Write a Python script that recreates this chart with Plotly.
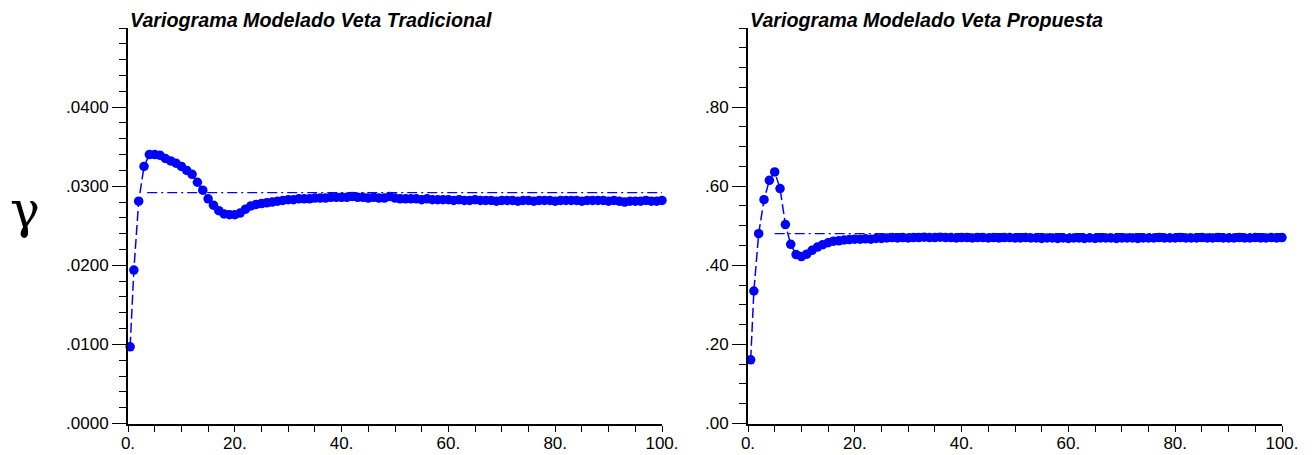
import plotly.graph_objects as go

# ---------------- data ----------------
lag_trad = [0.4, 1.1, 2, 3, 4, 5, 6, 7, 8, 9, 10, 11, 12, 13, 14, 15, 16, 17, 18, 19, 20,
            21, 22, 23, 24, 25, 26, 27, 28, 29, 30, 31, 32, 33, 34, 35, 36, 37, 38, 39, 40,
            41, 42, 43, 44, 45, 46, 47, 48, 49, 50, 51, 52, 53, 54, 55, 56, 57, 58, 59, 60,
            61, 62, 63, 64, 65, 66, 67, 68, 69, 70, 71, 72, 73, 74, 75, 76, 77, 78, 79, 80,
            81, 82, 83, 84, 85, 86, 87, 88, 89, 90, 91, 92, 93, 94, 95, 96, 97, 98, 99, 100]
gamma_trad = [0.0097, 0.0194, 0.0281, 0.0325, 0.0340, 0.0340, 0.0339, 0.0335, 0.0332, 0.0329,
              0.0325, 0.0320, 0.0315, 0.0305, 0.0295, 0.0284, 0.0276, 0.0269, 0.0265, 0.0264,
              0.0264, 0.0266, 0.0271, 0.0275, 0.0277, 0.0278, 0.0279, 0.0280, 0.0281, 0.0282,
              0.0283, 0.0283, 0.0284, 0.0284, 0.0284, 0.0285, 0.0285, 0.0285, 0.0286, 0.0286,
              0.0286, 0.0286, 0.0287, 0.0286, 0.0286, 0.0285, 0.0286, 0.0285, 0.0285, 0.0287,
              0.0285, 0.0284, 0.0284, 0.0284, 0.0284, 0.0283, 0.0284, 0.0283, 0.0283, 0.0283,
              0.0283, 0.0282, 0.0283, 0.0282, 0.0282, 0.0283, 0.0282, 0.0282, 0.0282, 0.0281,
              0.0282, 0.0282, 0.0282, 0.0281, 0.0282, 0.0282, 0.0281, 0.0282, 0.0282, 0.0282,
              0.0281, 0.0282, 0.0282, 0.0282, 0.0282, 0.0281, 0.0282, 0.0282, 0.0282, 0.0282,
              0.0281, 0.0282, 0.0281, 0.0280, 0.0281, 0.0281, 0.0281, 0.0282, 0.0281, 0.0281,
              0.0282]
sill_trad_x = [3.6, 100]
sill_trad_y = [0.0292, 0.0292]

lag_prop = [0.5, 1.1, 2, 3, 4, 5, 6, 7, 8, 9, 10, 11, 12, 13, 14, 15, 16, 17, 18, 19, 20,
            21, 22, 23, 24, 25, 26, 27, 28, 29, 30, 31, 32, 33, 34, 35, 36, 37, 38, 39, 40,
            41, 42, 43, 44, 45, 46, 47, 48, 49, 50, 51, 52, 53, 54, 55, 56, 57, 58, 59, 60,
            61, 62, 63, 64, 65, 66, 67, 68, 69, 70, 71, 72, 73, 74, 75, 76, 77, 78, 79, 80,
            81, 82, 83, 84, 85, 86, 87, 88, 89, 90, 91, 92, 93, 94, 95, 96, 97, 98, 99, 100]
gamma_prop = [0.161, 0.335, 0.480, 0.566, 0.615, 0.636, 0.594, 0.503, 0.453, 0.427,
              0.422, 0.428, 0.438, 0.446, 0.452, 0.457, 0.461, 0.462, 0.464, 0.465,
              0.466, 0.466, 0.467, 0.466, 0.468, 0.468, 0.469, 0.470, 0.469, 0.470,
              0.469, 0.470, 0.470, 0.471, 0.470, 0.470, 0.471, 0.470, 0.470, 0.469,
              0.470, 0.470, 0.469, 0.470, 0.470, 0.469, 0.470, 0.469, 0.470, 0.470,
              0.469, 0.469, 0.470, 0.469, 0.469, 0.468, 0.469, 0.469, 0.468, 0.469,
              0.468, 0.469, 0.469, 0.468, 0.469, 0.468, 0.469, 0.469, 0.469, 0.468,
              0.469, 0.469, 0.469, 0.468, 0.469, 0.469, 0.469, 0.470, 0.469, 0.469,
              0.469, 0.470, 0.469, 0.469, 0.469, 0.470, 0.469, 0.469, 0.470, 0.469,
              0.469, 0.469, 0.470, 0.469, 0.469, 0.470, 0.469, 0.469, 0.470, 0.469,
              0.470]
sill_prop_x = [5.0, 100]
sill_prop_y = [0.480, 0.480]

x_tickvals = [0, 20, 40, 60, 80, 100]
x_ticktext = ["0.", "20.", "40.", "60.", "80.", "100."]
y_trad_tickvals = [0.0, 0.01, 0.02, 0.03, 0.04]
y_trad_ticktext = [".0000", ".0100", ".0200", ".0300", ".0400"]
y_prop_tickvals = [0.0, 0.2, 0.4, 0.6, 0.8]
y_prop_ticktext = [".00", ".20", ".40", ".60", ".80"]

title_trad = "Variograma Modelado Veta Tradicional"
title_prop = "Variograma Modelado Veta Propuesta"
ylabel = "γ"

# ---------------- figure ----------------
# page body has an 8px margin, so the figure is offset by 8px in the screenshot
OFF = 8
W, H = 1312 - OFF, 455 - OFF
BLUE = "#0000FF"
FONT = "Liberation Sans, Arial, sans-serif"

def px(x):
    return (x - OFF) / W

def py(y):
    return 1 - (y - OFF) / H

fig = go.Figure()

def add_panel(xs, ys, sx, sy, xa, ya):
    fig.add_trace(go.Scatter(
        x=sx, y=sy, mode="lines", xaxis=xa, yaxis=ya,
        line=dict(color=BLUE, width=1.2, dash="10px,4px,2px,4px"),
        hoverinfo="skip", showlegend=False, cliponaxis=False))
    fig.add_trace(go.Scatter(
        x=xs, y=ys, mode="lines+markers", xaxis=xa, yaxis=ya,
        line=dict(color=BLUE, width=1.5, dash="10px,4px"),
        marker=dict(color=BLUE, size=9.5, line=dict(width=0)),
        showlegend=False, cliponaxis=False))

add_panel(lag_trad, gamma_trad, sill_trad_x, sill_trad_y, "x", "y")
add_panel(lag_prop, gamma_prop, sill_prop_x, sill_prop_y, "x2", "y2")

ydom = [py(423.5), py(28)]
tickfont = dict(family=FONT, size=17, color="black")

def xaxis_cfg(x0, x1):
    return dict(
        domain=[px(x0), px(x1)], range=[0, 100], automargin=False,
        showline=True, linecolor="black", linewidth=2, mirror=False,
        showgrid=False, zeroline=False,
        tickmode="array", tickvals=x_tickvals, ticktext=x_ticktext,
        ticks="outside", ticklen=3, tickcolor="rgba(0,0,0,0)",
        tickfont=tickfont,
        minor=dict(tick0=0, dtick=5, ticks="outside", ticklen=6,
                   tickwidth=1.3, tickcolor="black", showgrid=False),
    )

def yaxis_cfg(anchor, rng, tv, tt, mdt):
    return dict(
        domain=ydom, range=rng, anchor=anchor, automargin=False,
        showline=True, linecolor="black", linewidth=2,
        showgrid=False, zeroline=False,
        tickmode="array", tickvals=tv, ticktext=tt,
        ticks="outside", ticklen=14, tickwidth=1.3, tickcolor="black",
        tickfont=tickfont,
        minor=dict(tick0=0, dtick=mdt, ticks="outside", ticklen=7,
                   tickwidth=1.3, tickcolor="black", showgrid=False),
    )

title_font = dict(family=FONT, size=19.7, color="black")

fig.update_layout(
    width=W, height=H,
    margin=dict(l=0, r=0, t=0, b=0, autoexpand=False),
    paper_bgcolor="white", plot_bgcolor="white",
    xaxis=dict(**xaxis_cfg(128, 662), anchor="y"),
    yaxis=yaxis_cfg("x", [0, 0.05], y_trad_tickvals, y_trad_ticktext, 0.002),
    xaxis2=dict(**xaxis_cfg(748, 1282), anchor="y2"),
    yaxis2=yaxis_cfg("x2", [0, 1.0], y_prop_tickvals, y_prop_ticktext, 0.05),
    annotations=[
        dict(text="<b><i>" + title_trad + "</i></b>", xref="paper", yref="paper",
             x=px(129), y=1, xanchor="left", yanchor="top", borderpad=0,
             showarrow=False, font=title_font),
        dict(text="<b><i>" + title_prop + "</i></b>", xref="paper", yref="paper",
             x=px(749), y=1, xanchor="left", yanchor="top", borderpad=0,
             showarrow=False, font=title_font),
        dict(text=ylabel, xref="paper", yref="paper",
             x=px(25), y=py(210), xanchor="center", yanchor="middle",
             showarrow=False, font=dict(family="DejaVu Serif, serif", size=50, color="black")),
    ],
)

fig.write_html("out.html")
